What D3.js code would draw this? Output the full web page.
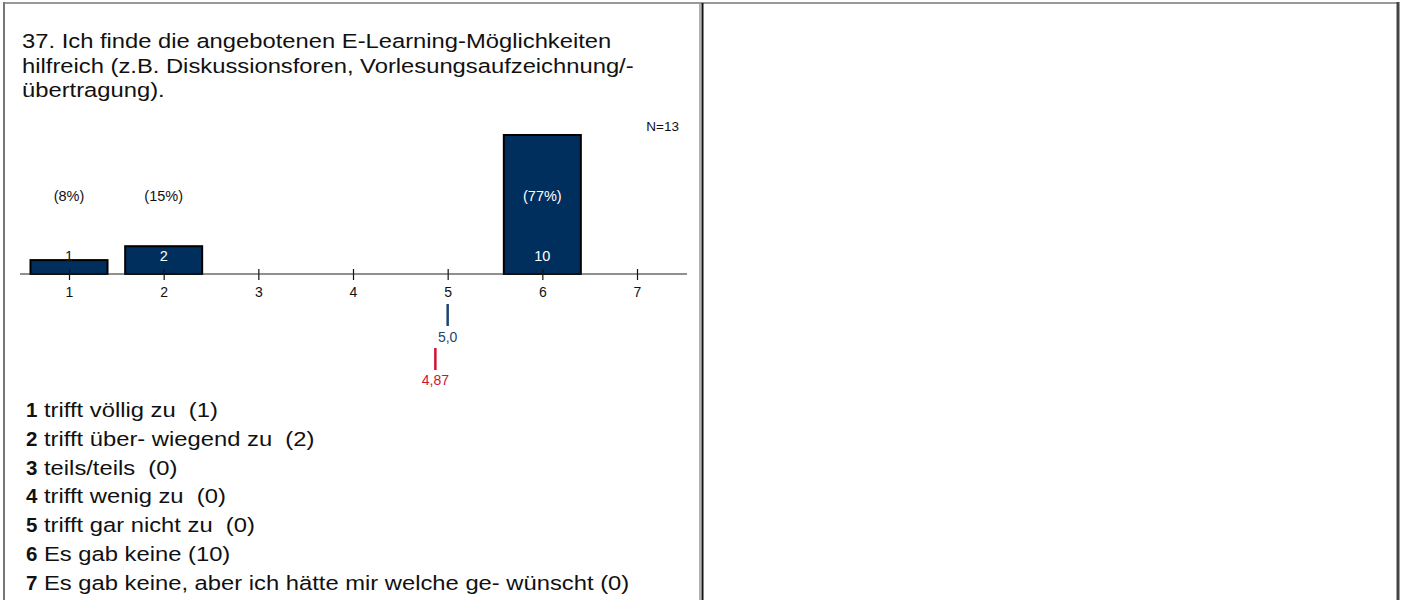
<!DOCTYPE html>
<html>
<head>
<meta charset="utf-8">
<script src="https://cdn.jsdelivr.net/npm/d3@7"></script>
<style>
  body { margin: 0; background: #fff; }
  svg { display: block; font-family: "Liberation Sans", Arial, sans-serif; }
  text { white-space: pre; }
</style>
</head>
<body>
<div id="chart"></div>
<script>
// question text, one entry per printed line
const titleLines = [
  "37. Ich finde die angebotenen E-Learning-Möglichkeiten",
  "hilfreich (z.B. Diskussionsforen, Vorlesungsaufzeichnung/-",
  "übertragung)."
];
const categories = [1, 2, 3, 4, 5, 6, 7];
const counts = [1, 2, 0, 0, 0, 10, 0];
const percents = ["(8%)", "(15%)", "", "", "", "(77%)", ""];
const answerLabels = [
  "trifft völlig zu  (1)",
  "trifft über- wiegend zu  (2)",
  "teils/teils  (0)",
  "trifft wenig zu  (0)",
  "trifft gar nicht zu  (0)",
  "Es gab keine (10)",
  "Es gab keine, aber ich hätte mir welche ge- wünscht (0)"
];
const total = 13;
const median = 5.0, medianLabel = "5,0";
const mean = 4.87, meanLabel = "4,87";

const W = 1401, H = 600;
const barColor = "#002f5e", blue = "#1f4272", red = "#d21034";
const stretch = 1.16; // the source text is set a bit wider than Arial

const svg = d3.select("#chart").append("svg").attr("width", W).attr("height", H);

// table frame
svg.append("line").attr("x1", 4).attr("x2", 1398).attr("y1", 3).attr("y2", 3)
  .attr("stroke", "#999").attr("stroke-width", 2);
svg.append("line").attr("x1", 4).attr("x2", 4).attr("y1", 2).attr("y2", H)
  .attr("stroke", "#777").attr("stroke-width", 2);
svg.append("line").attr("x1", 1398).attr("x2", 1398).attr("y1", 2).attr("y2", H)
  .attr("stroke", "#444").attr("stroke-width", 3);
svg.append("line").attr("x1", 700).attr("x2", 700).attr("y1", 3).attr("y2", H)
  .attr("stroke", "#999").attr("stroke-width", 1.5);
svg.append("line").attr("x1", 702.5).attr("x2", 702.5).attr("y1", 3).attr("y2", H)
  .attr("stroke", "#111").attr("stroke-width", 2);

// title
svg.selectAll("text.title").data(titleLines).enter().append("text")
  .attr("class", "title")
  .attr("transform", (d, i) => `translate(22,${48 + i * 24.5}) scale(${stretch},1)`)
  .attr("font-size", 20.5).attr("fill", "#111")
  .text(d => d);

const x = d3.scaleLinear().domain([1, 7]).range([69, 637]);
const y = d3.scaleLinear().domain([0, 10]).range([274, 135]);
const barW = 77;

svg.append("text").attr("x", 679).attr("y", 131).attr("text-anchor", "end")
  .attr("font-size", 13.5).attr("fill", "#111").text("N=" + total);

// axis
const axis = d3.axisBottom(x).tickValues(categories).tickFormat(d3.format("d"))
  .tickSize(6).tickSizeOuter(0).tickPadding(4);
const gAxis = svg.append("g").attr("transform", "translate(0,274)").call(axis);
gAxis.select(".domain").remove();
gAxis.append("line").attr("x1", 20).attr("x2", 687).attr("stroke", "#222").attr("stroke-width", 1.2);
gAxis.selectAll(".tick line").attr("y1", -5).attr("y2", 6).attr("stroke", "#111").attr("stroke-width", 1.2);
gAxis.selectAll(".tick text").attr("font-size", 14).attr("font-family", "Liberation Sans, Arial, sans-serif")
  .attr("fill", "#111").attr("dy", "0.9em");

// bars
svg.selectAll("rect.bar").data(counts).enter().append("rect")
  .attr("class", "bar")
  .attr("x", (d, i) => x(categories[i]) - barW / 2)
  .attr("y", d => y(d))
  .attr("width", barW)
  .attr("height", d => y(0) - y(d))
  .attr("fill", barColor)
  .attr("stroke", "#000").attr("stroke-width", 2);

// tick marks stay on top of the bars
gAxis.raise();

// count labels
svg.selectAll("text.count").data(categories.map((c, i) => ({ c, n: counts[i] })).filter(d => d.n > 0))
  .enter().append("text")
  .attr("class", "count")
  .attr("x", d => x(d.c))
  .attr("y", 261).attr("text-anchor", "middle").attr("font-size", 14.5)
  .attr("fill", d => y(d.n) < 250 ? "#fff" : "#111")
  .text(d => d.n);

// percent labels
svg.selectAll("text.pct").data(percents).enter().append("text")
  .attr("class", "pct")
  .attr("x", (d, i) => x(categories[i]))
  .attr("y", 201).attr("text-anchor", "middle").attr("font-size", 14.5)
  .attr("fill", (d, i) => y(counts[i]) < 188 ? "#fff" : "#111")
  .text(d => d);

// median and mean markers
svg.append("line").attr("x1", x(median)).attr("x2", x(median)).attr("y1", 304).attr("y2", 326)
  .attr("stroke", blue).attr("stroke-width", 2.5);
svg.append("text").attr("x", x(median)).attr("y", 342).attr("text-anchor", "middle")
  .attr("font-size", 14).attr("fill", blue).text(medianLabel);
svg.append("line").attr("x1", x(mean)).attr("x2", x(mean)).attr("y1", 348).attr("y2", 370)
  .attr("stroke", red).attr("stroke-width", 2.5);
svg.append("text").attr("x", x(mean)).attr("y", 385).attr("text-anchor", "middle")
  .attr("font-size", 14).attr("fill", red).text(meanLabel);

// answer legend
const leg = svg.selectAll("g.leg").data(answerLabels).enter().append("g")
  .attr("class", "leg")
  .attr("transform", (d, i) => `translate(26,${417 + i * 28.8})`);
leg.append("text").attr("font-size", 20.5).attr("font-weight", "bold").attr("fill", "#111")
  .text((d, i) => categories[i]);
leg.append("text").attr("transform", `translate(18,0) scale(${stretch},1)`)
  .attr("font-size", 20.5).attr("fill", "#111").text(d => d);
</script>
</body>
</html>
